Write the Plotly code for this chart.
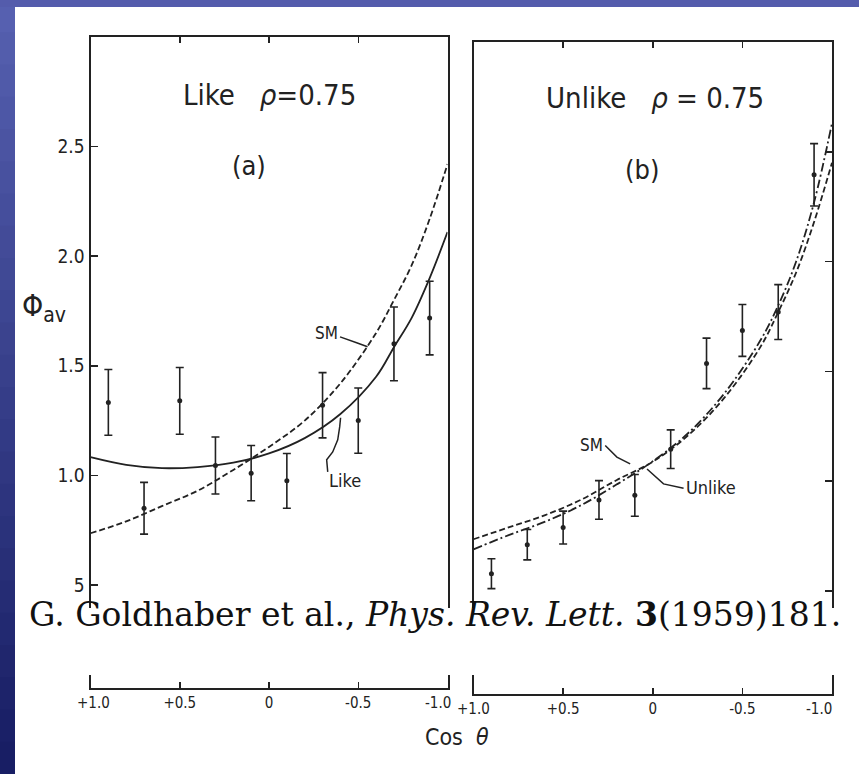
import plotly.graph_objects as go

# ---------------- data ----------------
cos_pts = [0.9, 0.7, 0.5, 0.3, 0.1, -0.1, -0.3, -0.5, -0.7, -0.9]

like_vals = [1.333, 0.850, 1.340, 1.045, 1.010, 0.975, 1.320, 1.250, 1.600, 1.718]
like_errs = [0.150, 0.118, 0.152, 0.130, 0.126, 0.125, 0.149, 0.149, 0.168, 0.168]

unlike_vals = [0.578, 0.710, 0.788, 0.914, 0.935, 1.145, 1.536, 1.686, 1.770, 2.395]
unlike_errs = [0.068, 0.069, 0.075, 0.088, 0.095, 0.088, 0.115, 0.118, 0.125, 0.142]

cos_curve = [1.0, 0.8, 0.6, 0.4, 0.2, 0.0, -0.2, -0.4, -0.6, -0.7, -0.8, -0.9, -1.0]
like_fit = [1.083, 1.048, 1.033, 1.038, 1.058, 1.100, 1.170, 1.280, 1.450, 1.585, 1.720, 1.900, 2.110]
sm_left = [0.736, 0.790, 0.860, 0.930, 1.025, 1.130, 1.250, 1.420, 1.650, 1.800, 1.960, 2.170, 2.420]
sm_right = [0.735, 0.790, 0.845, 0.915, 1.005, 1.088, 1.210, 1.380, 1.610, 1.770, 1.950, 2.180, 2.450]
unlike_fit = [0.689, 0.755, 0.815, 0.890, 0.985, 1.090, 1.220, 1.400, 1.640, 1.800, 2.000, 2.270, 2.630]

x_tickvals = [0.5, 0.0, -0.5]
x_ticktext = ["+0.5", "0", "-0.5"]
x_edge_vals = [1.0, -1.0]          # edge labels are placed as annotations below
x_edge_text = ["+1.0", "-1.0"]
y_tickvals = [0.5, 1.0, 1.5, 2.0, 2.5]
y_ticktext = ["5", "1.0", "1.5", "2.0", "2.5"]

# leader lines of the labels (data coordinates)
sm_left_ptr = [(-0.398, 1.632), (-0.491, 1.605), (-0.552, 1.587)]
like_ptr = [(-0.329, 1.016), (-0.323, 1.071), (-0.357, 1.107), (-0.385, 1.162), (-0.396, 1.221), (-0.401, 1.263)]
sm_right_ptr = [(0.265, 1.162), (0.200, 1.109), (0.126, 1.078)]
unlike_ptr = [(-0.172, 0.967), (-0.060, 0.987), (0.032, 1.055)]

# ---------------- styling ----------------
INK = "#222222"
SANS = "DejaVu Sans Condensed, Liberation Sans Narrow, DejaVu Sans, sans-serif"
SERIF = "DejaVu Serif, Liberation Serif, serif"
W, H = 859, 774


def px(x):
    return x / W


def py(y):
    return 1 - y / H


fig = go.Figure()

err_style = dict(type="data", visible=True, color=INK, thickness=1.6, width=4)
mk = dict(color=INK, size=5)

# left panel
fig.add_trace(go.Scatter(x=cos_curve, y=like_fit, mode="lines", line=dict(color=INK, width=1.8, shape="spline"),
                         xaxis="x", yaxis="y", showlegend=False))
fig.add_trace(go.Scatter(x=cos_curve, y=sm_left, mode="lines",
                         line=dict(color=INK, width=1.8, shape="spline", dash="6px,3px"),
                         xaxis="x", yaxis="y", showlegend=False))
fig.add_trace(go.Scatter(x=cos_pts, y=like_vals, mode="markers", marker=mk,
                         error_y=dict(array=like_errs, **err_style),
                         xaxis="x", yaxis="y", showlegend=False))

# right panel
fig.add_trace(go.Scatter(x=cos_curve, y=sm_right, mode="lines",
                         line=dict(color=INK, width=1.8, shape="spline", dash="6px,3px"),
                         xaxis="x2", yaxis="y2", showlegend=False))
fig.add_trace(go.Scatter(x=cos_curve, y=unlike_fit, mode="lines",
                         line=dict(color=INK, width=1.8, shape="spline", dash="9px,3px,2px,3px"),
                         xaxis="x2", yaxis="y2", showlegend=False))
fig.add_trace(go.Scatter(x=cos_pts, y=unlike_vals, mode="markers", marker=mk,
                         error_y=dict(array=unlike_errs, **err_style),
                         xaxis="x2", yaxis="y2", showlegend=False))

TICKFONT_X = dict(family=SANS, size=15, color=INK)
xax = dict(range=[1.0, -1.0], tickvals=x_tickvals, ticktext=x_ticktext, ticks="inside", ticklen=6,
           tickwidth=1.5, tickcolor=INK, showline=True, linewidth=2, linecolor=INK, mirror="ticks",
           showgrid=False, zeroline=False, tickfont=TICKFONT_X, fixedrange=True, automargin=False)
yax = dict(range=[0.03, 3.0], tickvals=y_tickvals, ticktext=y_ticktext, ticks="inside", ticklen=7,
           tickwidth=1.5, tickcolor=INK, showline=True, linewidth=2, linecolor=INK, mirror=True,
           showgrid=False, zeroline=False, fixedrange=True, automargin=False)

shapes = []
# blue slide border (top and left), stepped gradient on the left
n = 24
for i in range(n):
    t = i / (n - 1)
    r = int(86 + (24 - 86) * t)
    g = int(96 + (30 - 96) * t)
    b = int(176 + (100 - 176) * t)
    shapes.append(dict(type="rect", xref="paper", yref="paper", x0=0, x1=px(15),
                       y0=py(min(H, H * (i + 1) / n + 2)), y1=py(H * i / n), fillcolor=f"rgb({r},{g},{b})",
                       line=dict(width=0), layer="below"))
shapes.append(dict(type="rect", xref="paper", yref="paper", x0=0, x1=1, y0=py(7), y1=1,
                   fillcolor="rgb(84,92,172)", line=dict(width=0), layer="below"))
# caption band covering the lower part of the frames
shapes.append(dict(type="rect", xref="paper", yref="paper", x0=px(15), x1=1, y0=py(675), y1=py(608),
                   fillcolor="white", line=dict(width=0), layer="above"))


def ptr_path(pts):
    p = "M {},{}".format(*pts[0])
    for q in pts[1:]:
        p += " L {},{}".format(*q)
    return p


for pts, xr, yr in [(sm_left_ptr, "x", "y"), (like_ptr, "x", "y"), (sm_right_ptr, "x2", "y2"),
                    (unlike_ptr, "x2", "y2")]:
    shapes.append(dict(type="path", xref=xr, yref=yr, path=ptr_path(pts), line=dict(color=INK, width=1.5)))

ann_font = dict(family=SANS, color=INK)
annotations = [
    dict(text="Like   <i>ρ</i>=0.75", x=0.0, y=2.735, xref="x", yref="y", showarrow=False,
         font=dict(size=29, **ann_font)),
    dict(text="(a)", x=0.112, y=2.413, xref="x", yref="y", showarrow=False, font=dict(size=27, **ann_font)),
    dict(text="Unlike   <i>ρ</i> = 0.75", x=-0.013, y=2.747, xref="x2", yref="y2", showarrow=False,
         font=dict(size=29, **ann_font)),
    dict(text="(b)", x=0.06, y=2.418, xref="x2", yref="y2", showarrow=False, font=dict(size=27, **ann_font)),
    dict(text="SM", x=-0.398, y=1.651, xref="x", yref="y", xanchor="right", showarrow=False,
         font=dict(size=17, **ann_font)),
    dict(text="Like", x=-0.426, y=0.975, xref="x", yref="y", showarrow=False, font=dict(size=18, **ann_font)),
    dict(text="SM", x=0.265, y=1.165, xref="x2", yref="y2", xanchor="right", showarrow=False,
         font=dict(size=17, **ann_font)),
    dict(text="Unlike", x=-0.172, y=0.970, xref="x2", yref="y2", xanchor="left", showarrow=False,
         font=dict(size=18, **ann_font)),
    dict(text="Φ<sub>av</sub>", x=px(20), y=py(307), xref="paper", yref="paper", xanchor="left",
         showarrow=False, font=dict(size=30, **ann_font)),
    dict(text="Cos  <i>θ</i>", x=px(457), y=py(752), xref="paper", yref="paper", showarrow=False,
         font=dict(size=23, **ann_font)),
    dict(text="G. Goldhaber et al., <i>Phys. Rev. Lett.</i> <b>3</b>(1959)181.", x=px(435), y=py(636),
         xref="paper", yref="paper", showarrow=False, font=dict(family=SERIF, size=33, color="#111111")),
]

# edge tick labels of the cos(theta) axes, nudged inwards so the neighbouring panels do not collide
for xr, yr, shifts in [("x", "y", (3, -10)), ("x2", "y2", (0, -13))]:
    for v, t, s in zip(x_edge_vals, x_edge_text, shifts):
        annotations.append(dict(text=t, x=v, y=0.03, xref=xr, yref=yr, yanchor="top", yshift=-4, xshift=s,
                                showarrow=False, font=TICKFONT_X))

fig.update_layout(
    width=W, height=H, margin=dict(l=0, r=0, t=0, b=0, autoexpand=False),
    paper_bgcolor="white", plot_bgcolor="rgba(0,0,0,0)",
    xaxis=dict(domain=[px(90.5), px(447.5)], anchor="y", **xax),
    yaxis=dict(domain=[py(688), py(37)], anchor="x", tickfont=dict(family=SANS, size=19, color=INK), **yax),
    xaxis2=dict(domain=[px(473.5), px(832)], anchor="y2", **xax),
    yaxis2=dict(domain=[py(694), py(42)], anchor="x2", side="right", showticklabels=False, **yax),
    shapes=shapes, annotations=annotations, showlegend=False, hovermode=False,
)

fig.write_html("out.html", config={"displayModeBar": False, "staticPlot": True},
               post_script="document.body.style.margin='0';document.body.style.overflow='hidden';")
